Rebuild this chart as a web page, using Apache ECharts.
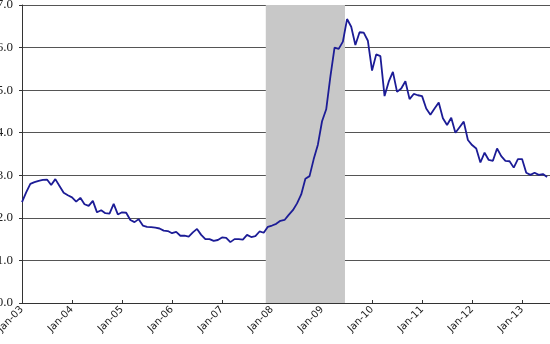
<!DOCTYPE html>
<html>
<head>
<meta charset="utf-8">
<script src="https://cdn.jsdelivr.net/npm/echarts@6/dist/echarts.min.js"></script>
<style>
html,body{margin:0;padding:0;background:#fff;}
#chart{width:550px;height:344px;}
</style>
</head>
<body>
<div id="chart"></div>
<script>
// Monthly values, Jan-03 (index 0) to Jul-13 (index 126)
var values = [
  2.37,2.60,2.80,2.84,2.87,2.89,2.90,2.77,2.91,2.75,2.59,2.53,
  2.48,2.38,2.47,2.32,2.28,2.40,2.13,2.18,2.11,2.10,2.33,2.08,
  2.13,2.12,1.95,1.90,1.97,1.82,1.79,1.78,1.77,1.75,1.70,1.69,
  1.64,1.67,1.58,1.58,1.56,1.66,1.74,1.60,1.50,1.50,1.46,1.48,
  1.54,1.53,1.43,1.50,1.50,1.49,1.60,1.55,1.57,1.68,1.65,1.79,
  1.82,1.86,1.93,1.95,2.07,2.18,2.34,2.55,2.92,2.98,3.38,3.72,
  4.27,4.55,5.32,6.00,5.97,6.14,6.67,6.49,6.06,6.36,6.35,6.16,
  5.46,5.84,5.80,4.86,5.20,5.43,4.96,5.04,5.21,4.79,4.91,4.88,
  4.86,4.57,4.42,4.57,4.71,4.34,4.18,4.35,4.00,4.13,4.26,3.83,
  3.71,3.63,3.30,3.53,3.36,3.34,3.63,3.45,3.34,3.33,3.18,3.38,
  3.38,3.06,3.01,3.06,3.01,3.03,2.96
];
var tickLabels = ['Jan-03','Jan-04','Jan-05','Jan-06','Jan-07','Jan-08','Jan-09','Jan-10','Jan-11','Jan-12','Jan-13'];
var tickPositions = [0,12,24,36,48,60,72,84,96,108,120];
var recession = [58.5, 77.5]; // Dec-07 to Jun-09 (month index bounds)

var seriesData = values.map(function(v,i){return [i,v];});
var chart = echarts.init(document.getElementById('chart'), null, {renderer:'canvas'});
chart.setOption({
  animation:false,
  backgroundColor:'#ffffff',
  grid:{left:22,right:0,top:5,bottom:41,containLabel:false,outerBoundsMode:'none'},
  xAxis:{
    type:'value', min:0, max:126.7, interval:12,
    axisLine:{show:true,onZero:false,lineStyle:{color:'#333',width:1}},
    axisTick:{show:true,inside:true,length:3,lineStyle:{color:'#333'},customValues:tickPositions},
    axisLabel:{
      rotate:45, fontFamily:'DejaVu Sans', fontSize:10, color:'#222', margin:5,
      customValues:tickPositions,
      formatter:function(v){var k=tickPositions.indexOf(Math.round(v));return k>=0?tickLabels[k]:'';}
    },
    splitLine:{show:false}
  },
  yAxis:{
    type:'value', min:0, max:7, interval:1,
    axisLine:{show:true,lineStyle:{color:'#333',width:1}},
    axisTick:{show:true,length:3,lineStyle:{color:'#333'}},
    axisLabel:{fontFamily:'Liberation Serif',fontSize:13,color:'#222',margin:9,
      formatter:function(v){return v.toFixed(1);}},
    splitLine:{show:true,lineStyle:{color:'#555',width:1}}
  },
  series:[{
    type:'line',
    data:seriesData,
    showSymbol:false,
    symbol:'none',
    lineStyle:{color:'#1c1c96',width:1.8},
    itemStyle:{color:'#1c1c96'},
    z:5,
    markArea:{
      silent:true,
      itemStyle:{color:'#c8c8c8',opacity:1},
      data:[[{xAxis:recession[0]},{xAxis:recession[1]}]]
    }
  }]
});
</script>
</body>
</html>
